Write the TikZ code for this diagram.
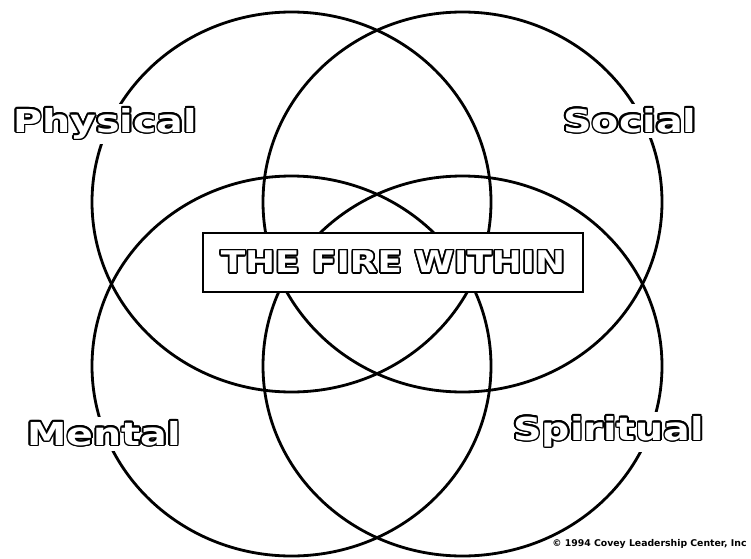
\documentclass[tikz,border=0pt]{standalone}
\usepackage{fontspec}
\usepackage[copies]{contour}
\usetikzlibrary{positioning}
\newfontfamily\lblfont[FakeStretch=1.25]{DejaVu Sans Bold}
\newfontfamily\boxfont[FakeStretch=1.2]{DejaVu Sans Bold}
\newfontfamily\notefont{DejaVu Sans Bold}
\contourlength{0.9pt}
\definecolor{inkBlack}{HTML}{000000}
\tikzset{
  ring/.style  = {draw=inkBlack, line width=1.6pt},
  lbl/.style   = {font=\lblfont\fontsize{18}{20}\selectfont, text=white,
                  fill=white, inner sep=2pt, anchor=base west},
  title/.style = {draw=inkBlack, fill=white, line width=1.1pt,
                  minimum width=7.6cm, minimum height=1.18cm, inner sep=0pt,
                  font=\boxfont\fontsize{17}{19}\selectfont, text=white},
  note/.style  = {font=\notefont\fontsize{5.3}{6}\selectfont, inner sep=0pt,
                  anchor=base west},
}
\begin{document}
\begin{tikzpicture}
  \useasboundingbox (0,0) rectangle (15.02,11.16);
  % four rings in a 2x2 layout
  \foreach \cx/\cy in {5.83/7.12, 9.25/7.12, 5.83/3.84, 9.25/3.84}
    \draw[ring] (\cx,\cy) ellipse [x radius=3.99, y radius=3.80];
  % banner in the middle
  \node[title] (fire) at (7.86,5.91) {\contour{inkBlack}{THE FIRE WITHIN}};
  % the four corner labels
  \node[lbl] (physical)  at (0.19,8.52)  {\contour{inkBlack}{Physical}};
  \node[lbl] (social)    at (11.19,8.52) {\contour{inkBlack}{Social}};
  \node[lbl] (mental)    at (0.47,2.26)  {\contour{inkBlack}{Mental}};
  \node[lbl] (spiritual) at (10.19,2.36) {\contour{inkBlack}{Spiritual}};
  \node[note] (copy) at (11.04,0.24) {\textcopyright\ 1994 Covey Leadership Center, Inc};
\end{tikzpicture}
\end{document}
